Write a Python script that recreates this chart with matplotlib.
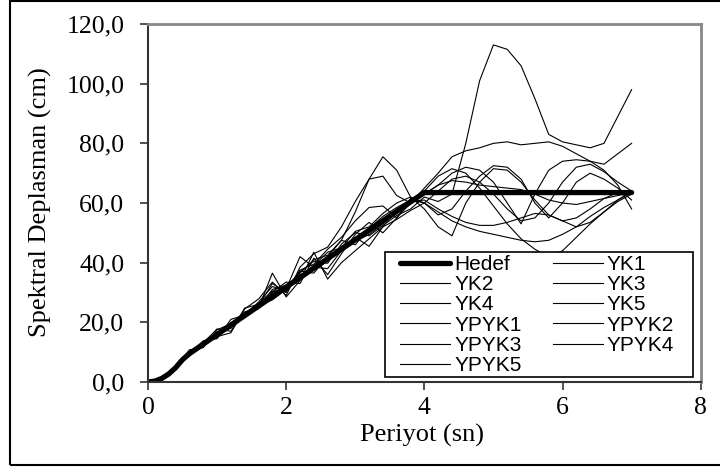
import matplotlib
matplotlib.use("Agg")
import matplotlib.pyplot as plt
from matplotlib.patches import Rectangle
from matplotlib.ticker import FuncFormatter

# Hedef spektrum
hedef_T = [0.0, 0.1, 0.2, 0.3, 0.4, 0.5, 0.6, 1.0, 2.0, 3.0, 4.0, 7.0]
hedef_Sd = [0.0, 0.3, 1.2, 2.7, 4.8, 7.5, 9.5, 15.9, 31.8, 47.7, 63.5, 63.5]

# Periyotlar (sn) - kayitlar icin
periyot = [0.0, 0.2, 0.4, 0.6, 0.8, 1.0, 1.2, 1.4, 1.6, 1.8,
           2.0, 2.2, 2.4, 2.6, 2.8, 3.0, 3.2, 3.4, 3.6, 3.8,
           4.0, 4.2, 4.4, 4.6, 4.8, 5.0, 5.2, 5.4, 5.6, 5.8,
           6.0, 6.2, 6.4, 6.6, 6.8, 7.0]

yk1 = [0, 1.1, 4.7, 9.8, 12.2, 16.8, 18.4, 23.1, 26.3, 30.5,
       30.2, 36.8, 40.5, 39.8, 46.2, 50.1, 49.0, 52.5, 55.8, 58.0,
       62.0, 60.5, 63.0, 80.0, 101.0, 113.0, 111.5, 106.0, 95.0, 83.0,
       80.5, 79.5, 78.5, 80.0, 89.0, 98.0]
yk2 = [0, 1.3, 5.0, 9.3, 13.4, 15.2, 16.5, 24.5, 27.8, 33.5,
       29.0, 38.5, 43.0, 45.2, 52.0, 60.5, 68.0, 69.0, 62.5, 60.0,
       65.0, 70.0, 75.5, 77.5, 78.5, 80.0, 80.5, 79.5, 80.0, 80.5,
       79.0, 76.5, 74.0, 73.0, 76.5, 80.0]
yk3 = [0, 1.2, 4.6, 9.9, 13.0, 16.5, 18.0, 22.9, 24.6, 30.2,
       33.5, 33.0, 41.5, 36.0, 43.0, 49.5, 53.5, 50.0, 55.0, 61.5,
       63.0, 66.0, 70.0, 72.0, 71.0, 67.0, 60.0, 53.0, 63.0, 71.0,
       74.0, 74.5, 74.0, 71.0, 66.0, 58.0]
yk4 = [0, 1.2, 4.9, 9.2, 12.9, 15.4, 19.8, 21.8, 25.9, 27.5,
       31.0, 37.2, 36.5, 42.0, 47.5, 46.0, 51.5, 55.5, 58.5, 61.0,
       60.0, 57.0, 54.0, 52.0, 50.5, 49.5, 48.5, 47.5, 47.0, 47.5,
       49.5, 52.0, 55.5, 58.5, 61.0, 63.5]
yk5 = [0, 1.1, 4.8, 10.8, 11.5, 17.5, 19.5, 23.5, 24.8, 36.5,
       28.5, 34.0, 43.5, 34.5, 40.0, 44.0, 48.0, 52.0, 58.0, 60.0,
       64.0, 69.0, 71.5, 70.0, 65.0, 59.0, 53.0, 48.0, 44.5, 42.0,
       44.0, 48.5, 53.0, 57.0, 60.5, 63.0]
ypyk1 = [0, 1.2, 4.7, 9.5, 13.2, 15.0, 19.3, 22.6, 25.0, 31.0,
         32.5, 35.5, 39.0, 43.5, 45.0, 50.5, 52.0, 56.5, 60.0, 62.0,
         58.0, 52.0, 49.0, 60.0, 67.0, 71.5, 71.0, 67.0, 61.0, 56.0,
         54.0, 55.0, 58.0, 61.5, 63.5, 64.0]
ypyk2 = [0, 1.3, 4.9, 9.4, 13.8, 14.5, 21.0, 22.4, 26.8, 32.0,
         30.5, 36.0, 37.5, 40.5, 45.5, 47.0, 49.5, 53.0, 57.5, 60.5,
         61.0, 58.0, 55.5, 53.5, 52.5, 52.5, 53.5, 55.0, 56.5, 56.0,
         54.0, 52.0, 53.5, 57.0, 61.0, 64.0]
ypyk3 = [0, 1.2, 4.8, 9.7, 12.8, 15.6, 19.9, 21.9, 25.6, 33.0,
         30.0, 37.5, 39.5, 44.5, 48.5, 54.0, 58.5, 59.0, 55.0, 60.0,
         63.0, 66.0, 67.5, 67.0, 66.0, 65.5, 65.0, 64.5, 63.0, 61.0,
         60.0, 59.5, 60.5, 61.5, 62.5, 63.5]
ypyk4 = [0, 1.1, 4.6, 9.1, 13.1, 17.8, 17.0, 24.8, 26.0, 29.5,
         31.2, 42.0, 38.5, 38.0, 44.0, 48.5, 45.5, 52.0, 54.5, 57.5,
         60.0, 56.0, 58.0, 64.0, 69.0, 72.5, 72.0, 68.0, 60.0, 55.0,
         60.0, 67.0, 70.0, 68.0, 65.0, 61.0]
ypyk5 = [0, 1.2, 4.8, 9.5, 12.6, 15.7, 19.6, 22.0, 25.2, 30.0,
         32.0, 36.5, 41.0, 42.5, 47.5, 57.0, 68.0, 75.5, 71.0, 62.0,
         60.0, 64.0, 68.0, 69.0, 67.0, 63.0, 58.0, 54.0, 55.0, 60.0,
         67.0, 72.0, 73.0, 70.5, 67.0, 64.0]

kayitlar = [("YK1", yk1), ("YK2", yk2), ("YK3", yk3), ("YK4", yk4), ("YK5", yk5),
            ("YPYK1", ypyk1), ("YPYK2", ypyk2), ("YPYK3", ypyk3), ("YPYK4", ypyk4),
            ("YPYK5", ypyk5)]

serif = ["Liberation Serif", "DejaVu Serif"]
sans = ["Liberation Sans", "DejaVu Sans"]

fig = plt.figure(figsize=(7.2, 4.7), dpi=100)
ax = fig.add_axes([148 / 720, 88 / 470, 552.7 / 720, 358 / 470])

cizgiler = {}
h, = ax.plot(hedef_T, hedef_Sd, color="black", lw=3.8, solid_capstyle="round")
cizgiler["Hedef"] = h
for ad, deger in kayitlar:
    l, = ax.plot(periyot, deger, color="black", lw=0.8)
    cizgiler[ad] = l

ax.set_xlim(0, 8)
ax.set_ylim(0, 120)
ax.set_xticks([0, 2, 4, 6, 8])
ax.set_yticks([0, 20, 40, 60, 80, 100, 120])
ax.yaxis.set_major_formatter(FuncFormatter(lambda v, p: f"{v:.1f}".replace(".", ",")))
ax.tick_params(direction="out", length=6, width=1.2, colors="#333333", labelcolor="black")
ax.tick_params(axis="y", pad=11)
ax.tick_params(axis="x", pad=5)
for t in ax.get_xticklabels() + ax.get_yticklabels():
    t.set_family(serif)
    t.set_fontsize(18.5)

for s in ["top", "right"]:
    ax.spines[s].set_color("#888888")
    ax.spines[s].set_linewidth(2)
for s in ["left", "bottom"]:
    ax.spines[s].set_color("#333333")
    ax.spines[s].set_linewidth(1.5)

fig.text(40 / 720, 1 - 202 / 470, "Spektral Deplasman (cm)", rotation=90,
         ha="center", va="center", family=serif, fontsize=19)
fig.text(422 / 720, 1 - 435 / 470, "Periyot (sn)", ha="center", va="center",
         family=serif, fontsize=19)

# legend kutusu (beyaz, cizgilerin ustunde)
kutu = Rectangle((385 / 720, 1 - 377 / 470), (692.7 - 385) / 720, 125 / 470,
                 transform=fig.transFigure, facecolor="white", edgecolor="black",
                 lw=1.2, zorder=4, clip_on=False)
ax.add_patch(kutu)

# legend satir satir dolsun diye sira
sira = ["Hedef", "YK2", "YK4", "YPYK1", "YPYK3", "YPYK5",
        "YK1", "YK3", "YK5", "YPYK2", "YPYK4"]
leg = ax.legend([cizgiler[k] for k in sira], sira, ncol=2,
                loc="upper left", bbox_to_anchor=(400 / 720, 1 - 255 / 470),
                bbox_transform=fig.transFigure, prop={"family": sans, "size": 15},
                frameon=False, handlelength=2.4, handletextpad=0.2,
                columnspacing=1.5, labelspacing=0.06, borderpad=0, borderaxespad=0)
leg.set_zorder(5)

# dis cerceve
fig.patches.append(Rectangle((10 / 720, 5 / 470), 1.0, 1 - 6 / 470, transform=fig.transFigure,
                             fill=False, ec="black", lw=1.5))

plt.savefig("out.png", dpi=100)
